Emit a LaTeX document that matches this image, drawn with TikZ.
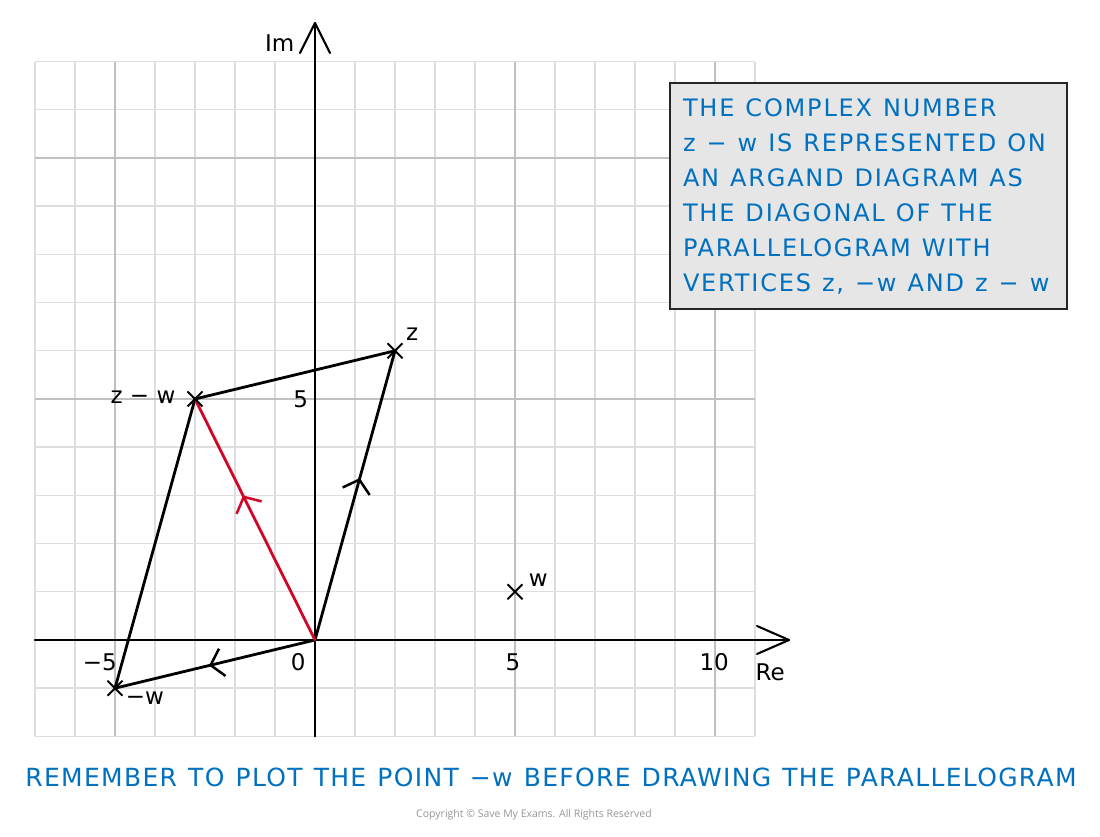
\documentclass[tikz,border=0pt]{standalone}
\usepackage{fontspec}
\setmainfont{DejaVu Sans}
\newfontfamily\notefont{DejaVu Sans}[LetterSpace=7.5]
\newfontfamily\bottomfont{DejaVu Sans}[LetterSpace=5.3,WordSpace=1.2]
\newfontfamily\copyfont{Open Sans}
\newcommand\notespacing{\spaceskip=11pt plus 2pt minus 1pt\relax}
\usetikzlibrary{arrows.meta,decorations.markings,shapes.misc}
\definecolor{gminor}{RGB}{222,222,222}
\definecolor{gmajor}{RGB}{192,192,192}
\definecolor{vecred}{RGB}{208,6,40}
\definecolor{noteblue}{RGB}{0,112,192}
\definecolor{boxgray}{RGB}{230,230,230}
\definecolor{copygray}{RGB}{150,150,150}
\begin{document}
\begin{tikzpicture}[x=40pt,y=48.2pt,
  gridminor/.style={draw=gminor, line width=1.4pt},
  gridmajor/.style={draw=gmajor, line width=1.6pt},
  axisline/.style={line width=2.1pt, black, line cap=round, line join=miter},
  vec/.style={line width=2.8pt, line cap=round},
  midarr/.style={postaction=decorate, decoration={markings,
     mark=at position #1 with {\arrow{Straight Barb[length=12pt,width=28pt,line width=2.5pt]}}}},
  crossmark/.style={cross out, draw=black, line width=2pt, minimum size=13pt, inner sep=0pt},
  lbl/.style={font=\fontsize{23}{27}\selectfont, text=black, inner sep=0pt},
  notebox/.style={draw=black!85, line width=1.3pt, fill=boxgray, text=noteblue,
     font=\notefont\fontsize{24}{35}\selectfont, execute at begin node=\notespacing,
     align=left, text width=371pt, inner sep=13pt,
     minimum width=397pt, minimum height=226pt},
  bottomnote/.style={text=noteblue, font=\bottomfont\fontsize{25}{30}\selectfont, inner sep=0pt},
  copynote/.style={text=copygray, font=\copyfont\fontsize{10.5}{12}\selectfont, inner sep=0pt}]
\useasboundingbox (-315pt,-197pt) rectangle (785pt,640pt);
% grid
\foreach \gx in {-7,...,11} \draw[gridminor] (\gx,-2) -- (\gx,12);
\foreach \gy in {-2,...,12} \draw[gridminor] (-7,\gy) -- (11,\gy);
\foreach \gx in {-5,5,10} \draw[gridmajor] (\gx,-2) -- (\gx,12);
\foreach \gy in {5,10} \draw[gridmajor] (-7,\gy) -- (11,\gy);
% axes
\coordinate (O) at (0,0);
\coordinate (xstart) at (-7,0);
\coordinate (xtip) at (11.85,0);
\coordinate (ystart) at (0,-2);
\coordinate (ytip) at (0,12.8);
\draw[axisline] (xstart) -- (xtip);
\draw[axisline] (ystart) -- (ytip);
\draw[axisline, line join=round] (xtip) ++(-32pt,14pt) -- (xtip) -- ++(-32pt,-14pt);
\draw[axisline, line join=round] (ytip) ++(-15pt,-30pt) -- (ytip) -- ++(15pt,-30pt);
\node[lbl] (relbl) at (11.38,-0.66) {Re};
\node[lbl] (imlbl) at (-0.88,12.39) {Im};
% tick labels
\node[lbl] (t0) at (-0.42,-0.46) {0};
\node[lbl] (tm5) at (-5.38,-0.46) {−5};
\node[lbl] (t5) at (4.95,-0.46) {5};
\node[lbl] (t10) at (9.98,-0.46) {10};
\node[lbl] (ty5) at (-0.36,5.0) {5};
% points
\coordinate (z) at (2,6);
\coordinate (w) at (5,1);
\coordinate (mw) at (-5,-1);
\coordinate (zmw) at (-3,5);
% parallelogram
\draw[vec, midarr=0.56] (O) -- (z);
\draw[vec] (z) -- (zmw);
\draw[vec] (zmw) -- (mw);
\draw[vec, midarr=0.53] (O) -- (mw);
\draw[vec, vecred, midarr=0.6] (O) -- (zmw);
% crosses
\node[crossmark] (zx) at (z) {};
\node[crossmark] (wx) at (w) {};
\node[crossmark] (mwx) at (mw) {};
\node[crossmark] (zmwx) at (zmw) {};
% point labels
\node[lbl] (zl) at (2.43,6.35) {z};
\node[lbl] (wl) at (5.58,1.25) {w};
\node[lbl] (mwl) at (-4.25,-1.2) {−w};
\node[lbl] (zmwl) at (-4.3,5.04) {z − w};
% note box
\node[notebox] (note) at (553.5pt,444pt) {THE COMPLEX NUMBER\\ z − w IS REPRESENTED ON\\ AN ARGAND DIAGRAM AS\\ THE DIAGONAL OF THE\\ PARALLELOGRAM WITH\\ VERTICES z, −w AND z − w};
\node[bottomnote] (bottom) at (236pt,-137pt) {REMEMBER TO PLOT THE POINT −w BEFORE DRAWING THE PARALLELOGRAM};
\node[copynote] (copy) at (219pt,-175pt) {Copyright © Save My Exams. All Rights Reserved};
\end{tikzpicture}
\end{document}
